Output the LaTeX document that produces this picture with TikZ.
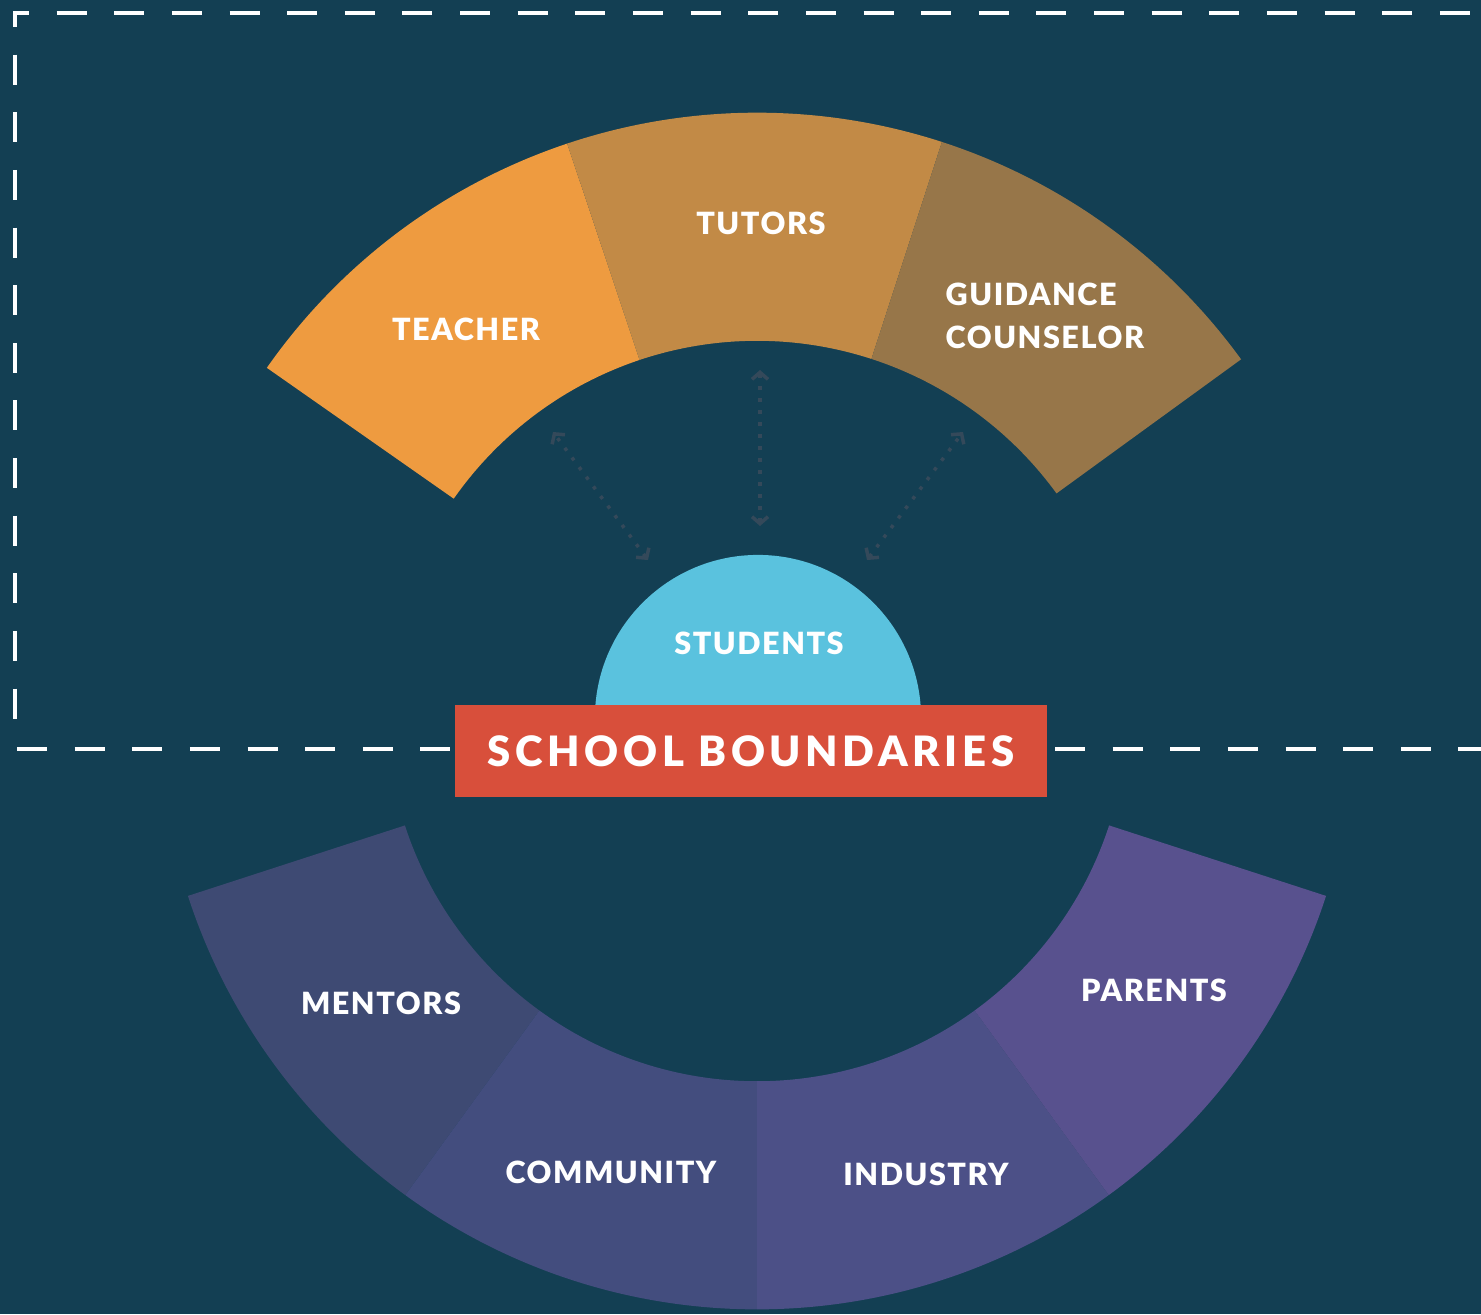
\documentclass[tikz,border=0pt]{standalone}
\usepackage{fontspec}
\IfFontExistsTF{Lato Black}{%
  \newfontfamily\latolab[LetterSpace=5,BoldFont={Lato Black}]{Lato}
  \newfontfamily\latobig[LetterSpace=11,BoldFont={Lato Black}]{Lato}
}{%
  \IfFontExistsTF{Lato Heavy}{%
    \newfontfamily\latolab[LetterSpace=6,BoldFont={Lato Heavy}]{Lato}
    \newfontfamily\latobig[LetterSpace=12,BoldFont={Lato Heavy}]{Lato}
  }{%
    \newfontfamily\latolab[LetterSpace=7]{Lato}
    \newfontfamily\latobig[LetterSpace=12]{Lato}
  }%
}
\usetikzlibrary{calc,arrows.meta}
\definecolor{bg}{HTML}{133F53}
\definecolor{cteacher}{HTML}{EE9B40}
\definecolor{ctutors}{HTML}{C28A46}
\definecolor{cguidance}{HTML}{977649}
\definecolor{cmentors}{HTML}{3E4A73}
\definecolor{ccommunity}{HTML}{434D7E}
\definecolor{cindustry}{HTML}{4C5087}
\definecolor{cparents}{HTML}{58518E}
\definecolor{cstudents}{HTML}{5AC2DE}
\definecolor{cred}{HTML}{D84F3B}
\definecolor{carrow}{HTML}{34495A}
\newcommand\ringsector[3]{%
  \fill[#3] ($(C)+(#1:3.70cm)$) arc[start angle=#1, end angle=#2, radius=3.70cm]
    -- ($(C)+(#2:5.98cm)$) arc[start angle=#2, end angle=#1, radius=5.98cm] -- cycle;}
\tikzset{
  lab/.style={text=white, font=\latolab\bfseries\fontsize{8.7}{12.2}\selectfont, inner sep=0pt},
  bigbox/.style={fill=cred, text=white, font=\latobig\bfseries\fontsize{11.9}{14}\selectfont,
     minimum width=5.92cm, minimum height=0.92cm, inner sep=0pt},
  border/.style={draw=white, line width=0.04cm, dash pattern=on 0.30cm off 0.276cm},
  dotarrow/.style={draw=carrow, line width=0.035cm, dash pattern=on 0.035cm off 0.085cm,
     {Straight Barb[length=0.07cm,width=0.16cm,line width=0.035cm]}-{Straight Barb[length=0.07cm,width=0.16cm,line width=0.035cm]}}
}
\begin{document}
\begin{tikzpicture}[x=0.01cm,y=0.01cm]
\fill[bg] (0,0) rectangle (1481,-1314);
\useasboundingbox (0,0) rectangle (1481,-1314);
\coordinate (C) at (757,-711);
% dashed school frame
\coordinate (fc) at (15,-13);
\coordinate (ftr) at (1481,-13);
\coordinate (fbl) at (15,-722);
\coordinate (bl0) at (17,-749);
\coordinate (bl1) at (455,-749);
\coordinate (br0) at (1055,-749);
\coordinate (br1) at (1481,-749);
\draw[border, dash phase=0.16cm] (fc) -- (ftr);
\draw[border, dash phase=0.16cm] (fc) -- (fbl);
\fill[white] ($(fc)+(-0.02cm,0.02cm)$) rectangle ($(fc)+(0.02cm,-0.02cm)$);
\draw[border] (bl0) -- (bl1);
\draw[border] (br0) -- (br1);
% top ring (school)
\ringsector{108.5}{145}{cteacher}
\ringsector{72}{108.5}{ctutors}
\ringsector{36}{72}{cguidance}
% bottom ring (outside)
\ringsector{198}{234}{cmentors}
\ringsector{234}{270}{ccommunity}
\ringsector{270}{306}{cindustry}
\ringsector{306}{342}{cparents}
% students
\coordinate (S) at (758,-718);
\fill[cstudents] ($(S)+(0:1.63cm)$) arc[start angle=0, end angle=180, radius=1.63cm] -- cycle;
% boundary box
\node[bigbox] (sb) at (751,-751) {SCHOOL BOUNDARIES};
% labels
\node[lab] (teacher) at (466,-329) {TEACHER};
\node[lab] (tutors) at (761,-223) {TUTORS};
\node[lab, anchor=west, align=left] (guidance) at (945,-316) {GUIDANCE\\COUNSELOR};
\node[lab] (students) at (759,-643) {STUDENTS};
\node[lab] (mentors) at (381,-1003) {MENTORS};
\node[lab] (community) at (611,-1172) {COMMUNITY};
\node[lab] (industry) at (926,-1174) {INDUSTRY};
\node[lab] (parents) at (1154,-990) {PARENTS};
% dotted two-way arrows
\coordinate (tL) at (553,-432);
\coordinate (bL) at (648,-560);
\coordinate (tM) at (760,-370);
\coordinate (bM) at (760,-526);
\coordinate (tR) at (963,-432);
\coordinate (bR) at (867,-560);
\draw[dotarrow] (bL) -- (tL);
\draw[dotarrow] (bM) -- (tM);
\draw[dotarrow] (bR) -- (tR);
\end{tikzpicture}
\end{document}
